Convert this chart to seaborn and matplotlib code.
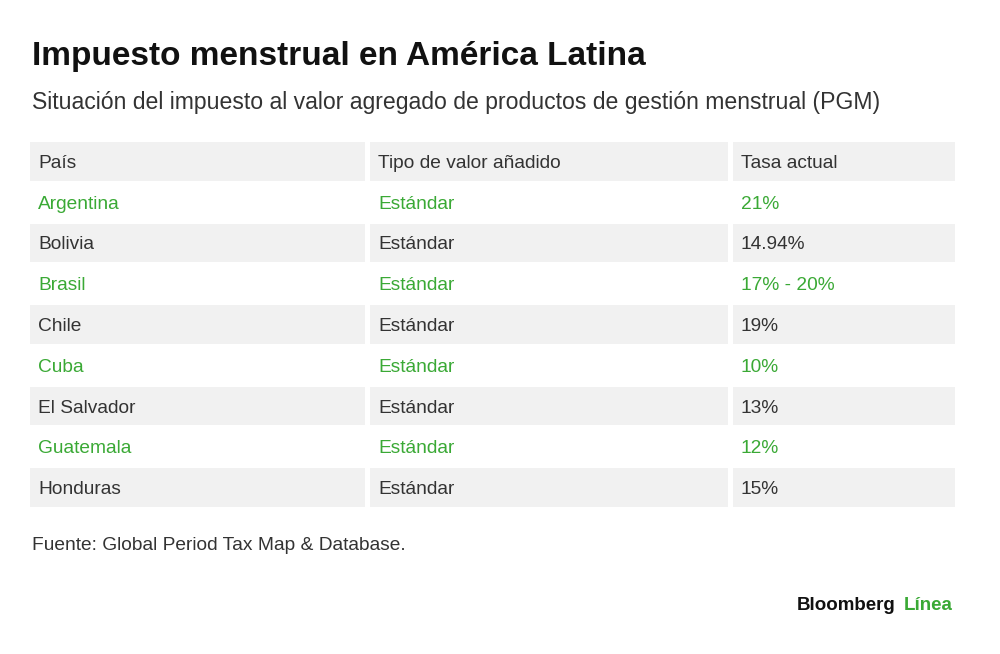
import matplotlib.pyplot as plt
import seaborn as sns
from matplotlib.patches import Rectangle

titulo = "Impuesto menstrual en América Latina"
subtitulo = "Situación del impuesto al valor agregado de productos de gestión menstrual (PGM)"
encabezados = ["País", "Tipo de valor añadido", "Tasa actual"]
paises = ["Argentina", "Bolivia", "Brasil", "Chile", "Cuba", "El Salvador", "Guatemala", "Honduras"]
tipos = ["Estándar"] * 8
tasas = ["21%", "14.94%", "17% - 20%", "19%", "10%", "13%", "12%", "15%"]
fuente = "Fuente: Global Period Tax Map & Database."

sns.set_theme(style="white")
plt.rcParams['font.family'] = ['Liberation Sans', 'DejaVu Sans']

fig = plt.figure(figsize=(10, 6.54), dpi=100)
ax = fig.add_axes([0, 0, 1, 1])
ax.set_xlim(0, 1000)
ax.set_ylim(654, 0)
ax.axis("off")

GRIS = "#f1f1f1"
VERDE = "#3aa935"
TEXTO = "#333333"
col_x = [30, 370, 733]
col_w = [335, 358, 222]
top, pitch, h = 142, 40.8, 38.5

filas = [encabezados] + [list(r) for r in zip(paises, tipos, tasas)]
for i, fila in enumerate(filas):
    y = top + i * pitch
    gris = i % 2 == 0
    color = TEXTO if gris else VERDE
    for j, celda in enumerate(fila):
        if gris:
            ax.add_patch(Rectangle((col_x[j], y), col_w[j], h, color=GRIS, lw=0))
        ax.text(col_x[j] + 8, y + h / 2 + 2, celda, fontsize=13.8, color=color, va="center")

ax.text(32, 57, titulo, fontsize=24, fontweight="bold", color="#111111", va="center")
ax.text(32, 103, subtitulo, fontsize=16.6, color="#333333", va="center")
ax.text(32, 546, fuente, fontsize=13.8, color="#333333", va="center")
ax.text(797, 606, "Bloomberg", fontsize=13.5, fontweight="bold", color="#111111", va="center")
ax.text(953, 606, "Línea", fontsize=13.5, fontweight="bold", color=VERDE, va="center", ha="right")

fig.savefig("out.png", dpi=100)
